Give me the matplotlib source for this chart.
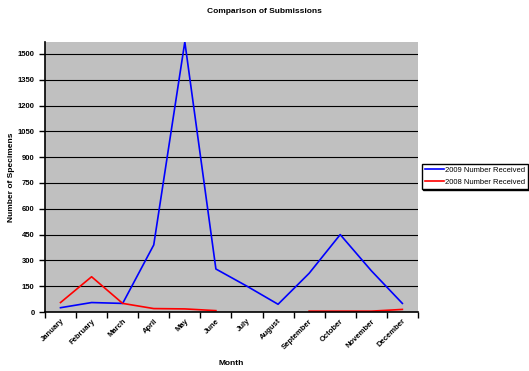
import numpy as np
import matplotlib
matplotlib.use('Agg')
import matplotlib.pyplot as plt

months = ['January', 'February', 'March', 'April', 'May', 'June', 'July',
          'August', 'September', 'October', 'November', 'December']
received_2009 = [25, 55, 50, 390, 1570, 250, 150, 45, 225, 450, 240, 50]
received_2008 = [55, 205, 50, 20, 18, 8, np.nan, np.nan, 5, 5, 5, 15]
y_ticks = [0, 150, 300, 450, 600, 750, 900, 1050, 1200, 1350, 1500]

plt.rcParams['font.family'] = ['Liberation Sans', 'DejaVu Sans']

fig = plt.figure(figsize=(5.29, 3.71), dpi=100)
ax = fig.add_axes([0.085, 0.159, 0.705, 0.728])
ax.set_facecolor('#c0c0c0')

x = np.arange(len(months))
ax.plot(x, received_2009, color='#0000ff', lw=1.2, label='2009 Number Received')
ax.plot(x, received_2008, color='#ff0000', lw=1.2, label='2008 Number Received')

ax.set_xlim(-0.5, len(months) - 0.5)
ax.set_ylim(0, 1570)
ax.set_yticks(y_ticks)
ax.set_yticklabels([str(v) for v in y_ticks], fontsize=5.5, fontweight='bold')
ax.yaxis.grid(True, color='black', lw=0.8)
ax.set_axisbelow(True)

# ticks sit between categories, labels at the centres
ax.set_xticks(np.arange(len(months) + 1) - 0.5)
ax.set_xticklabels([])
ax.set_xticks(x, minor=True)
ax.set_xticklabels(months, minor=True, rotation=45, ha='right',
                   rotation_mode='anchor', fontsize=5.5, fontweight='bold')
ax.tick_params(axis='x', which='minor', length=0, pad=4)
ax.tick_params(axis='both', which='major', length=4, width=1, direction='out')

for side in ['top', 'right']:
    ax.spines[side].set_visible(False)
for side in ['left', 'bottom']:
    ax.spines[side].set_linewidth(1.2)

ax.set_ylabel('Number of Specimens', fontsize=6, fontweight='bold', labelpad=2)
fig.text(0.437, 0.019, 'Month', fontsize=6, fontweight='bold',
         ha='center', va='center')
fig.text(0.5, 0.968, 'Comparison of Submissions', fontsize=6,
         fontweight='bold', ha='center', va='center')

fig.legend(loc='center left', bbox_to_anchor=(0.797, 0.525), fontsize=5.5,
           frameon=True, fancybox=False, edgecolor='black', framealpha=1,
           shadow={'color': 'black', 'alpha': 1, 'ox': 1, 'oy': -1},
           handlelength=2.5, handletextpad=0.2, borderpad=0.4,
           labelspacing=0.6, borderaxespad=0)

fig.savefig('out.png', dpi=100)
